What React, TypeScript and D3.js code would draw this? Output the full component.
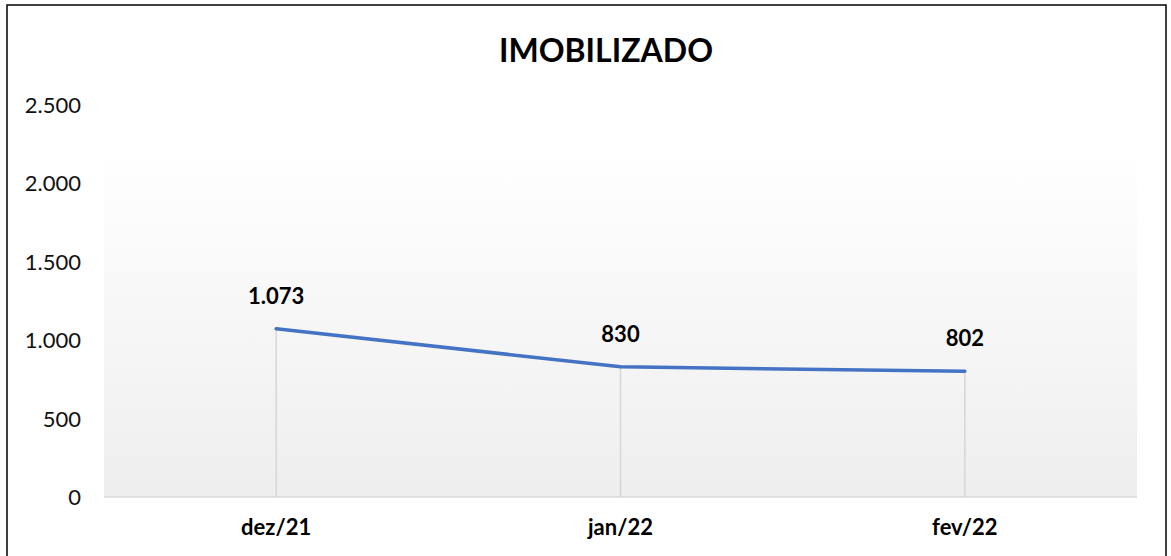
import React from "react";
import * as d3 from "d3";

const categories = ["dez/21", "jan/22", "fev/22"];
const values = [1073, 830, 802];
const valueLabels = ["1.073", "830", "802"];
const yTicks = [0, 500, 1000, 1500, 2000, 2500];
const title = "IMOBILIZADO";

const W = 1171;
const H = 556;
const plotLeft = 104;
const plotRight = 1137;
const plotBottom = 497;
const plotTop = 105;
const fillTop = 148;

export default function App() {
  const x = d3.scaleBand<string>().domain(categories).range([plotLeft, plotRight]).padding(0);
  const y = d3.scaleLinear().domain([0, 2500]).range([plotBottom, plotTop]);
  const cx = (c: string) => (x(c) as number) + x.bandwidth() / 2;
  const pts: [number, number][] = categories.map((c, i) => [cx(c), y(values[i])]);
  const line = d3.line<[number, number]>().x((d) => d[0]).y((d) => d[1]);
  const fmt = (v: number) => d3.format(",")(v).replace(/,/g, ".");
  const font = "Lato, 'Open Sans', sans-serif";

  return (
    <svg width={W} height={H} style={{ position: "absolute", left: 0, top: 0, display: "block" }}>
      <defs>
        <linearGradient id="bg" x1="0" y1="0" x2="0" y2="1">
          <stop offset="0%" stopColor="#ffffff" />
          <stop offset="100%" stopColor="#eeeeee" />
        </linearGradient>
      </defs>
      <rect x={0} y={0} width={W} height={H} fill="#ffffff" />
      <rect x={7} y={5} width={1159} height={570} fill="none" stroke="#000" strokeWidth={1.5} />
      <rect x={plotLeft} y={fillTop} width={plotRight - plotLeft} height={plotBottom - fillTop} fill="url(#bg)" />
      <text x={606} y={62} textAnchor="middle" fontFamily={font} fontWeight={700} fontSize={32} fill="#000">
        {title}
      </text>
      {yTicks.map((t) => (
        <text key={t} x={81} y={y(t)} dy="0.36em" textAnchor="end" fontFamily={font} fontSize={22} fill="#111">
          {fmt(t)}
        </text>
      ))}
      {pts.map((p, i) => (
        <line key={"d" + i} x1={p[0]} x2={p[0]} y1={p[1]} y2={plotBottom} stroke="#d6d6d6" strokeWidth={1.5} />
      ))}
      <line x1={plotLeft} x2={plotRight} y1={plotBottom} y2={plotBottom} stroke="#d9d9d9" strokeWidth={1.5} />
      <path d={line(pts) || ""} fill="none" stroke="#4472C4" strokeWidth={3.5} strokeLinecap="round" strokeLinejoin="round" />
      {pts.map((p, i) => (
        <text key={"v" + i} x={p[0]} y={p[1] - 25} textAnchor="middle" fontFamily={font} fontWeight={700} fontSize={22} fill="#000">
          {valueLabels[i]}
        </text>
      ))}
      {categories.map((c) => (
        <text key={c} x={cx(c)} y={535} textAnchor="middle" fontFamily={font} fontWeight={700} fontSize={22} fill="#000">
          {c}
        </text>
      ))}
    </svg>
  );
}
